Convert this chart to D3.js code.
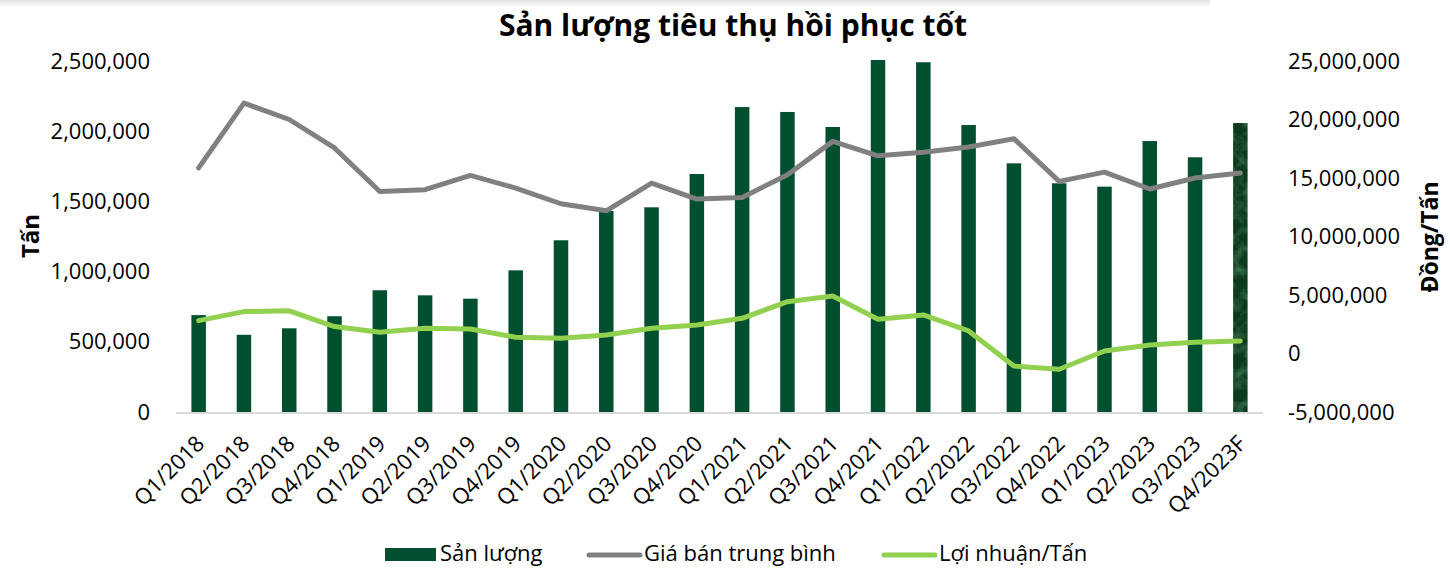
<!DOCTYPE html>
<html>
<head>
<meta charset="utf-8">
<script src="https://cdn.jsdelivr.net/npm/d3@7/dist/d3.min.js"></script>
<style>
  html, body { margin: 0; padding: 0; background: #fff; }
  svg { display: block; font-family: "Open Sans", "Noto Sans", sans-serif; }
</style>
</head>
<body>
<svg id="chart" width="1450" height="568"></svg>
<script>
// Quarterly categories
const categories = ["Q1/2018","Q2/2018","Q3/2018","Q4/2018","Q1/2019","Q2/2019","Q3/2019","Q4/2019",
  "Q1/2020","Q2/2020","Q3/2020","Q4/2020","Q1/2021","Q2/2021","Q3/2021","Q4/2021",
  "Q1/2022","Q2/2022","Q3/2022","Q4/2022","Q1/2023","Q2/2023","Q3/2023","Q4/2023F"];

// Sales volume (tonnes), left axis
const sanLuong = [690000, 550000, 596000, 682000, 867000, 831000, 807000, 1009000,
  1223000, 1432000, 1458000, 1695000, 2172000, 2137000, 2030000, 2507000,
  2491000, 2044000, 1771000, 1629000, 1605000, 1930000, 1814000, 2058000];

// Average selling price (VND/tonne), right axis
const giaBan = [15860000, 21400000, 20000000, 17570000, 13850000, 14000000, 15220000, 14140000,
  12800000, 12200000, 14570000, 13200000, 13340000, 15280000, 18130000, 16900000,
  17200000, 17650000, 18360000, 14710000, 15500000, 14060000, 15000000, 15430000];

// Profit per tonne (VND/tonne), right axis
const loiNhuan = [2810000, 3580000, 3650000, 2300000, 1810000, 2160000, 2100000, 1390000,
  1300000, 1580000, 2160000, 2440000, 3010000, 4430000, 4920000, 2930000,
  3300000, 1930000, -1070000, -1350000, 210000, 730000, 960000, 1070000];

const leftTicks = [0, 500000, 1000000, 1500000, 2000000, 2500000];
const rightTicks = [-5000000, 0, 5000000, 10000000, 15000000, 20000000, 25000000];

const svg = d3.select("#chart");
// thousands separator, plain hyphen for negatives
const fmt = d3.formatLocale({ decimal: ".", thousands: ",", grouping: [3], currency: ["", ""], minus: "-" }).format(",");

const plot = { left: 176, right: 1263, top: 61, bottom: 412 };

const x = d3.scaleBand().domain(categories).range([plot.left, plot.right]).padding(0);
const yL = d3.scaleLinear().domain([0, 2500000]).range([plot.bottom, plot.top]);
const yR = d3.scaleLinear().domain([-5000000, 25000000]).range([plot.bottom, plot.top]);
const cx = c => x(c) + x.bandwidth() / 2;
const barW = x.bandwidth() * 0.32;

const defs = svg.append("defs");

// faint shadow strip along the top edge
const g0 = defs.append("linearGradient").attr("id", "topShade").attr("x1", 0).attr("y1", 0).attr("x2", 0).attr("y2", 1);
g0.append("stop").attr("offset", "0%").attr("stop-color", "#e2e2e2");
g0.append("stop").attr("offset", "100%").attr("stop-color", "#ffffff");
svg.append("rect").attr("x", 0).attr("y", 0).attr("width", 1210).attr("height", 7).attr("fill", "url(#topShade)");

// mottled texture for the forecast bar
const f = defs.append("filter").attr("id", "marble")
  .attr("x", 0).attr("y", 0).attr("width", 1).attr("height", 1)
  .attr("color-interpolation-filters", "sRGB");
f.append("feTurbulence").attr("type", "fractalNoise").attr("baseFrequency", "0.09")
  .attr("numOctaves", 4).attr("seed", 7).attr("result", "noise");
f.append("feColorMatrix").attr("in", "noise").attr("type", "matrix")
  .attr("values", "0 0 0 0 0.24  0 0 0 0 0.47  0 0 0 0 0.33  2.0 0 0 0 -0.85")
  .attr("result", "spots");
f.append("feComposite").attr("in", "spots").attr("in2", "SourceGraphic").attr("operator", "atop");

// Title
svg.append("text")
  .attr("x", 733).attr("y", 36)
  .attr("text-anchor", "middle")
  .attr("font-size", 30).attr("font-weight", 700).attr("fill", "#000")
  .text("Sản lượng tiêu thụ hồi phục tốt");

// Bars
svg.append("g").selectAll("rect")
  .data(categories)
  .join("rect")
  .attr("x", c => cx(c) - barW / 2)
  .attr("width", barW)
  .attr("y", (c, i) => yL(sanLuong[i]))
  .attr("height", (c, i) => yL(0) - yL(sanLuong[i]))
  .attr("fill", (c, i) => i === categories.length - 1 ? "#0c3a1f" : "#004f2e")
  .attr("filter", (c, i) => i === categories.length - 1 ? "url(#marble)" : null);

// Category axis line
svg.append("line")
  .attr("x1", plot.left).attr("x2", plot.right)
  .attr("y1", plot.bottom + 1).attr("y2", plot.bottom + 1)
  .attr("stroke", "#d9d9d9").attr("stroke-width", 2);

// Lines
const line = vals => d3.line()
  .x((d, i) => cx(categories[i]))
  .y(d => yR(d))(vals);

svg.append("path").attr("d", line(giaBan))
  .attr("fill", "none").attr("stroke", "#808080").attr("stroke-width", 5)
  .attr("stroke-linejoin", "round").attr("stroke-linecap", "round");

svg.append("path").attr("d", line(loiNhuan))
  .attr("fill", "none").attr("stroke", "#92d050").attr("stroke-width", 5)
  .attr("stroke-linejoin", "round").attr("stroke-linecap", "round");

// Left axis
const axL = svg.append("g").attr("transform", `translate(${plot.left},0)`)
  .call(d3.axisLeft(yL).tickValues(leftTicks).tickFormat(fmt).tickSize(0).tickPadding(26));
axL.select(".domain").remove();
axL.selectAll("text").attr("font-size", 22).attr("fill", "#000").attr("font-family", "Open Sans");

// Right axis
const axR = svg.append("g").attr("transform", `translate(${plot.right},0)`)
  .call(d3.axisRight(yR).tickValues(rightTicks).tickFormat(fmt).tickSize(0).tickPadding(25));
axR.select(".domain").remove();
axR.selectAll("text").attr("font-size", 22).attr("fill", "#000").attr("font-family", "Open Sans");

// Category labels, rotated
svg.append("g").selectAll("text")
  .data(categories)
  .join("text")
  .attr("transform", c => `translate(${cx(c) + 7},${plot.bottom + 33}) rotate(-45)`)
  .attr("text-anchor", "end")
  .attr("font-size", 22).attr("fill", "#000")
  .text(c => c);

// Axis titles
svg.append("text")
  .attr("transform", "translate(39,236) rotate(-90)")
  .attr("text-anchor", "middle").attr("font-size", 24).attr("font-weight", 700)
  .text("Tấn");
svg.append("text")
  .attr("transform", "translate(1438,237) rotate(-90)")
  .attr("text-anchor", "middle").attr("font-size", 23).attr("font-weight", 700)
  .text("Đồng/Tấn");

// Legend
const lg = svg.append("g").attr("font-size", 22);
lg.append("rect").attr("x", 385).attr("y", 548).attr("width", 51).attr("height", 13).attr("fill", "#004f2e");
lg.append("text").attr("x", 440).attr("y", 561).text("Sản lượng");
lg.append("line").attr("x1", 589).attr("x2", 640).attr("y1", 555).attr("y2", 555)
  .attr("stroke", "#808080").attr("stroke-width", 5).attr("stroke-linecap", "round");
lg.append("text").attr("x", 644).attr("y", 561).text("Giá bán trung bình");
lg.append("line").attr("x1", 884).attr("x2", 935).attr("y1", 555).attr("y2", 555)
  .attr("stroke", "#92d050").attr("stroke-width", 5).attr("stroke-linecap", "round");
lg.append("text").attr("x", 939).attr("y", 561).text("Lợi nhuận/Tấn");
</script>
</body>
</html>
